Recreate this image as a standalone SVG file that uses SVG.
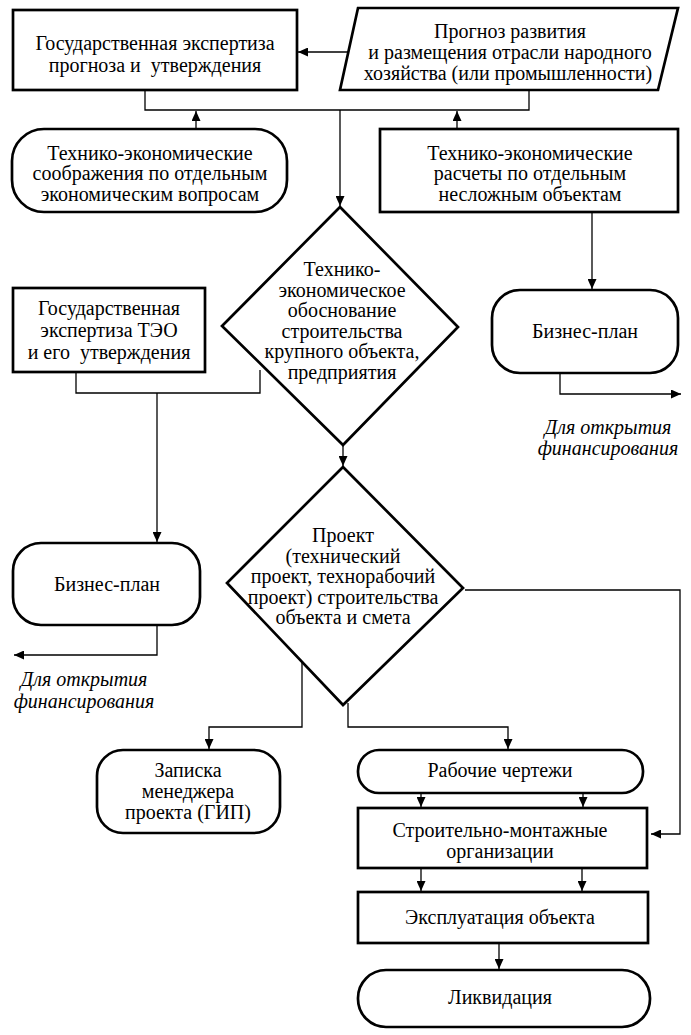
<svg xmlns="http://www.w3.org/2000/svg" width="691" height="1035" viewBox="0 0 691 1035">
<style>
.n{fill:#fff;stroke:#000;stroke-width:2.7;stroke-linejoin:miter}
.c{fill:none;stroke:#000;stroke-width:1.3}
.a{marker-end:url(#ah)}
text{font-family:"Liberation Serif","DejaVu Serif",serif;font-size:20px;fill:#000;text-anchor:middle;white-space:pre}
.i{font-style:italic}
</style>
<defs>
<marker id="ah" markerUnits="userSpaceOnUse" markerWidth="11" markerHeight="9" refX="10" refY="4.5" orient="auto">
<path d="M0,0 L10,4.5 L0,9 z" fill="#000"/>
</marker>
</defs>
<rect width="691" height="1035" fill="#fff"/>
<g id="connectors">
<path class="c a" d="M348,52 H298"/>
<path class="c" d="M145,90 V110 H529 V90"/>
<path class="c a" d="M196,129 V111"/>
<path class="c a" d="M457,129 V111"/>
<path class="c a" d="M340,110 V206"/>
<path class="c a" d="M592,212 V289"/>
<path class="c a" d="M560,373 V394 H681"/>
<path class="c" d="M76,372 V393 H260 V370"/>
<path class="c a" d="M157,393 V542"/>
<path class="c a" d="M157,625 V655 H14"/>
<path class="c a" d="M343,445 V466"/>
<path class="c a" d="M465,590 H680 V834 H651"/>
<path class="c a" d="M302,662 V727 H209 V749"/>
<path class="c a" d="M348,703 V727 H508 V749"/>
<path class="c a" d="M421,793 V807"/>
<path class="c a" d="M583,793 V807"/>
<path class="c a" d="M421,868 V891"/>
<path class="c a" d="M582,868 V891"/>
<path class="c a" d="M499,943 V969"/>
</g>
<g id="gos-expertiza">
<rect class="n" x="13" y="10" width="284" height="80"/>
<text x="155" y="50" xml:space="preserve">Государственная экспертиза</text>
<text x="155" y="72" xml:space="preserve">прогноза и  утверждения</text>
</g>
<g id="prognoz">
<polygon class="n" points="358,8 678,8 658,90 340,90"/>
<text x="510" y="38">Прогноз развития</text>
<text x="510" y="59">и размещения отрасли народного</text>
<text x="508" y="80">хозяйства (или промышленности)</text>
</g>
<g id="soobrazheniya">
<rect class="n" x="12" y="129" width="275" height="83" rx="32" ry="32"/>
<text x="150" y="160">Технико-экономические</text>
<text x="150" y="180">соображения по отдельным</text>
<text x="150" y="201">экономическим вопросам</text>
</g>
<g id="raschety">
<rect class="n" x="380" y="129" width="298" height="83"/>
<text x="530" y="160">Технико-экономические</text>
<text x="530" y="180">расчеты по отдельным</text>
<text x="530" y="201">несложным объектам</text>
</g>
<g id="teo">
<polygon class="n" points="340,207 458,327 343,445 222,326"/>
<text x="342" y="276">Технико-</text>
<text x="342" y="296.5">экономическое</text>
<text x="342" y="317">обоснование</text>
<text x="342" y="337.5">строительства</text>
<text x="342" y="358">крупного объекта,</text>
<text x="342" y="378.5">предприятия</text>
</g>
<g id="gos-expertiza-teo">
<rect class="n" x="13" y="288" width="192" height="84"/>
<text x="109" y="315">Государственная</text>
<text x="109" y="337">экспертиза ТЭО</text>
<text x="109" y="359" xml:space="preserve">и его  утверждения</text>
</g>
<g id="biznes-plan-right">
<rect class="n" x="492" y="290" width="186" height="83" rx="28" ry="28"/>
<text x="585" y="338">Бизнес-план</text>
</g>
<g id="note-right">
<text class="i" x="608" y="434">Для открытия</text>
<text class="i" x="608" y="455">финансирования</text>
</g>
<g id="biznes-plan-left">
<rect class="n" x="13" y="543" width="187" height="82" rx="28" ry="28"/>
<text x="107" y="591">Бизнес-план</text>
</g>
<g id="note-left">
<text class="i" x="84" y="686">Для открытия</text>
<text class="i" x="84" y="708">финансирования</text>
</g>
<g id="proekt">
<polygon class="n" points="343,467 463,588 343,705 227,583"/>
<text x="343" y="542">Проект</text>
<text x="343" y="562.5">(технический</text>
<text x="343" y="583">проект, технорабочий</text>
<text x="343" y="603.5">проект) строительства</text>
<text x="343" y="624">объекта и смета</text>
</g>
<g id="zapiska">
<rect class="n" x="97" y="750" width="183" height="83" rx="26" ry="26"/>
<text x="188" y="777">Записка</text>
<text x="188" y="798">менеджера</text>
<text x="188" y="819">проекта (ГИП)</text>
</g>
<g id="rabochie">
<rect class="n" x="358" y="750" width="285" height="43" rx="21" ry="21"/>
<text x="500" y="777">Рабочие чертежи</text>
</g>
<g id="smo">
<rect class="n" x="358" y="808" width="289" height="60"/>
<text x="500" y="837">Строительно-монтажные</text>
<text x="500" y="858">организации</text>
</g>
<g id="ekspluatatsiya">
<rect class="n" x="358" y="892" width="290" height="51"/>
<text x="500" y="924">Эксплуатация объекта</text>
</g>
<g id="likvidatsiya">
<rect class="n" x="358" y="970" width="292" height="57" rx="28" ry="28"/>
<text x="500" y="1004">Ликвидация</text>
</g>
</svg>
